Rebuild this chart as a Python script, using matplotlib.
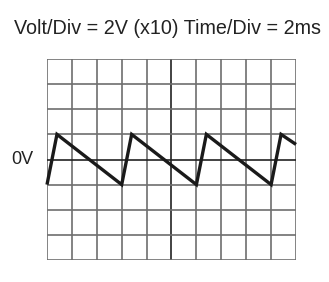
import matplotlib
matplotlib.use("Agg")
import matplotlib.pyplot as plt

# Waveform vertices in divisions (x: time divisions, y: voltage divisions)
wave_x = [0.0, 0.4, 3.0, 3.4, 6.0, 6.4, 9.0, 9.4, 10.0]
wave_y = [-1.0, 1.0, -1.0, 1.0, -1.0, 1.0, -1.0, 1.0, 0.6]
title_text = "Volt/Div = 2V (x10) Time/Div = 2ms"
zero_label = "0V"
n_xdiv = 10
n_ydiv = 8

W, H = 329, 282
fig = plt.figure(figsize=(W / 100, H / 100), dpi=100)
fig.patch.set_facecolor("white")
l, r, t, b = 47, 296, 59, 260
ax = fig.add_axes([l / W, 1 - b / H, (r - l) / W, (b - t) / H])
ax.set_xlim(0, n_xdiv)
ax.set_ylim(-n_ydiv / 2, n_ydiv / 2)
for s in ax.spines.values():
    s.set_visible(False)
ax.set_xticks([])
ax.set_yticks([])

grid_c = "#6e6e6e"
for i in range(n_xdiv + 1):
    c = "#222222" if i == n_xdiv // 2 else grid_c
    ax.axvline(i, color=c, lw=1.2, zorder=1)
for j in range(n_ydiv + 1):
    yv = -n_ydiv / 2 + j
    c = "#222222" if yv == 0 else grid_c
    ax.axhline(yv, color=c, lw=1.2, zorder=1)

ax.plot(wave_x, wave_y, color="#1a1a1a", lw=2.4, solid_joinstyle="miter",
        solid_capstyle="butt", zorder=3, clip_on=False)

fig.text(168 / W, 1 - 29 / H, title_text, ha="center", va="center",
         fontsize=14.2, family="Liberation Sans", color="#222222")
fig.text(22.5 / W, 1 - 160 / H, zero_label, ha="center", va="center",
         fontsize=13, family="Liberation Sans", color="#222222")

fig.savefig("out.png", dpi=100, facecolor="white")
